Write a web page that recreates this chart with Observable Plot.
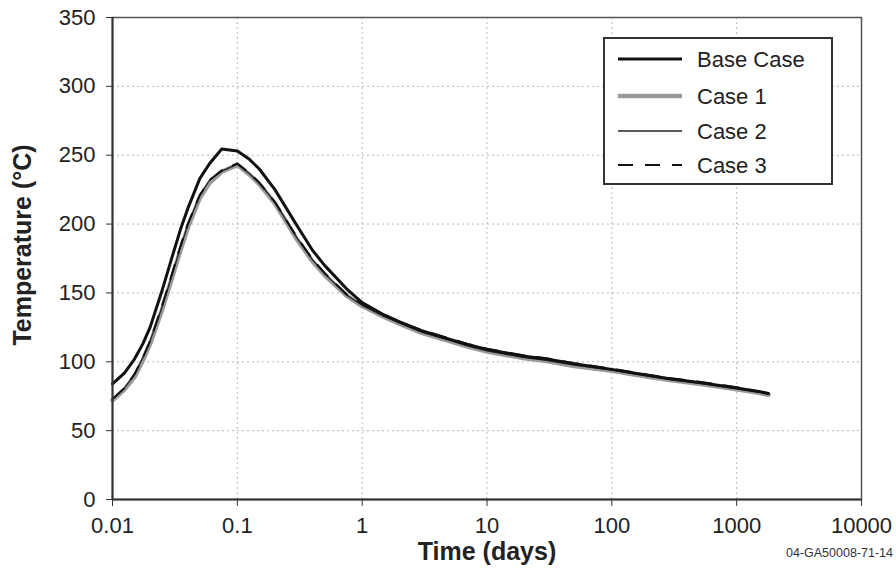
<!DOCTYPE html>
<html><head><meta charset="utf-8">
<script src="https://cdn.jsdelivr.net/npm/d3@7"></script>
<script src="https://cdn.jsdelivr.net/npm/@observablehq/plot@0.6"></script>
<style>
body{margin:0;background:#fff;}
#chart svg{display:block;}
</style>
</head><body><div id="chart"></div>
<script>
// ---- data ----
const time = [0.01, 0.0125, 0.015, 0.0175, 0.02, 0.025, 0.03, 0.035, 0.04, 0.05, 0.06, 0.075, 0.1, 0.125, 0.15, 0.2, 0.3, 0.4, 0.5, 0.75, 1, 1.5, 2, 3, 5, 7, 10, 20, 30, 50, 100, 200, 300, 500, 1000, 1500, 1800];
const baseCase = [84, 92, 102, 113, 125, 152, 176, 196, 211, 233, 244, 254.5, 253, 247, 240, 225, 199, 181, 170, 153, 143, 134, 129, 122.5, 116.5, 112.5, 109, 104, 102, 98.5, 94.5, 90, 87.5, 85, 81, 78.5, 77];
const case1 = [72, 80, 89, 101, 113, 138, 161, 181, 197, 219, 230, 238, 243, 236, 229, 215, 189, 173, 163, 148, 140.5, 132.5, 127.5, 121, 115, 111, 107.5, 102.5, 100.5, 97, 93.5, 89, 86.5, 84, 80, 77.5, 76];
const case2 = [73, 81, 91, 103, 115, 140, 163, 183, 199, 221, 232, 238.5, 243.5, 236.5, 230, 216, 190, 174, 164, 148.5, 141, 133, 128, 121.5, 115.5, 111.5, 108, 103, 101, 97.5, 94, 89.5, 87, 84.5, 80.5, 78, 76.5];
const case3 = [73, 81, 91, 103, 115, 141, 164, 184, 200, 221, 232, 239, 244, 237, 230, 216, 190.5, 174.5, 164.5, 149, 142, 134, 129, 123, 117, 113, 109.5, 104.5, 102.5, 99, 95, 90.5, 88, 85.5, 81.5, 78.5, 77];
const seriesNames = ["Base Case", "Case 1", "Case 2", "Case 3"];
const xTicks = [0.01, 0.1, 1, 10, 100, 1000, 10000];
const yTicks = [0, 50, 100, 150, 200, 250, 300, 350];

const rows = (name, vals) => time.map((t, i) => ({series: name, t, T: vals[i]}));
const styles = {
  "Base Case": {stroke: "#111", strokeWidth: 3, dash: null},
  "Case 1": {stroke: "#9a9a9a", strokeWidth: 4.5, dash: null},
  "Case 2": {stroke: "#222", strokeWidth: 1.3, dash: null},
  "Case 3": {stroke: "#111", strokeWidth: 2, dash: "15,12"}
};
const seriesData = {"Base Case": baseCase, "Case 1": case1, "Case 2": case2, "Case 3": case3};
const drawOrder = ["Case 1", "Case 2", "Case 3", "Base Case"];

const font = "'Liberation Sans', Arial, sans-serif";
const plot = Plot.plot({
  width: 896, height: 571,
  marginLeft: 112, marginRight: 35, marginTop: 17, marginBottom: 72,
  style: {fontFamily: font, fontSize: "22px", color: "#222", background: "#fff"},
  x: {type: "log", domain: [0.01, 10000]},
  y: {domain: [0, 350]},
  marks: [
    Plot.gridX(xTicks.slice(1, -1), {stroke: "#b8b8b8", strokeOpacity: 1, strokeDasharray: "2,3"}),
    Plot.gridY(yTicks.slice(1, -1), {stroke: "#b8b8b8", strokeOpacity: 1, strokeDasharray: "2,3"}),
    Plot.frame({stroke: "#555", strokeWidth: 1.5}),
    ...drawOrder.map(name => Plot.line(rows(name, seriesData[name]), {
      x: "t", y: "T", stroke: styles[name].stroke, strokeWidth: styles[name].strokeWidth,
      strokeDasharray: styles[name].dash, curve: "linear"
    })),
    Plot.axisX(xTicks, {tickSize: 7, tickPadding: 11, tickFormat: d => String(d), label: null, stroke: "#333"}),
    Plot.axisY(yTicks, {tickSize: 6, tickPadding: 11, label: null, stroke: "#333"}),
    Plot.ruleX([0.01], {stroke: "#333", strokeWidth: 2}),
    Plot.ruleY([0], {stroke: "#333", strokeWidth: 2})
  ]
});
document.getElementById("chart").appendChild(plot);

// ---- titles, legend and caption ----
const svg = d3.select(plot);
svg.append("text")
  .attr("x", 487).attr("y", 560)
  .attr("text-anchor", "middle")
  .style("font-family", font).style("font-size", "25px").style("font-weight", "bold").attr("fill", "#222")
  .text("Time (days)");
svg.append("text")
  .attr("transform", "translate(31,245) rotate(-90)")
  .attr("text-anchor", "middle")
  .style("font-family", font).style("font-size", "25px").style("font-weight", "bold").attr("fill", "#222")
  .text("Temperature (°C)");
svg.append("text")
  .attr("x", 893).attr("y", 557)
  .attr("text-anchor", "end")
  .style("font-family", font).style("font-size", "12.5px").attr("fill", "#333")
  .text("04-GA50008-71-14");

const lg = svg.append("g");
lg.append("rect").attr("x", 604).attr("y", 38).attr("width", 228).attr("height", 146)
  .attr("fill", "#fff").attr("stroke", "#333").attr("stroke-width", 2);
const ly = [59, 96, 131, 165];
seriesNames.forEach((name, i) => {
  const s = styles[name];
  lg.append("line").attr("x1", 618).attr("x2", 682).attr("y1", ly[i]).attr("y2", ly[i])
    .attr("stroke", s.stroke).attr("stroke-width", s.strokeWidth)
    .attr("stroke-dasharray", s.dash);
  lg.append("text").attr("x", 697).attr("y", ly[i]).attr("dy", "0.36em")
    .attr("text-anchor", "start")
    .style("font-family", font).style("font-size", "22px").attr("fill", "#222")
    .text(name);
});
</script>
</body></html>
